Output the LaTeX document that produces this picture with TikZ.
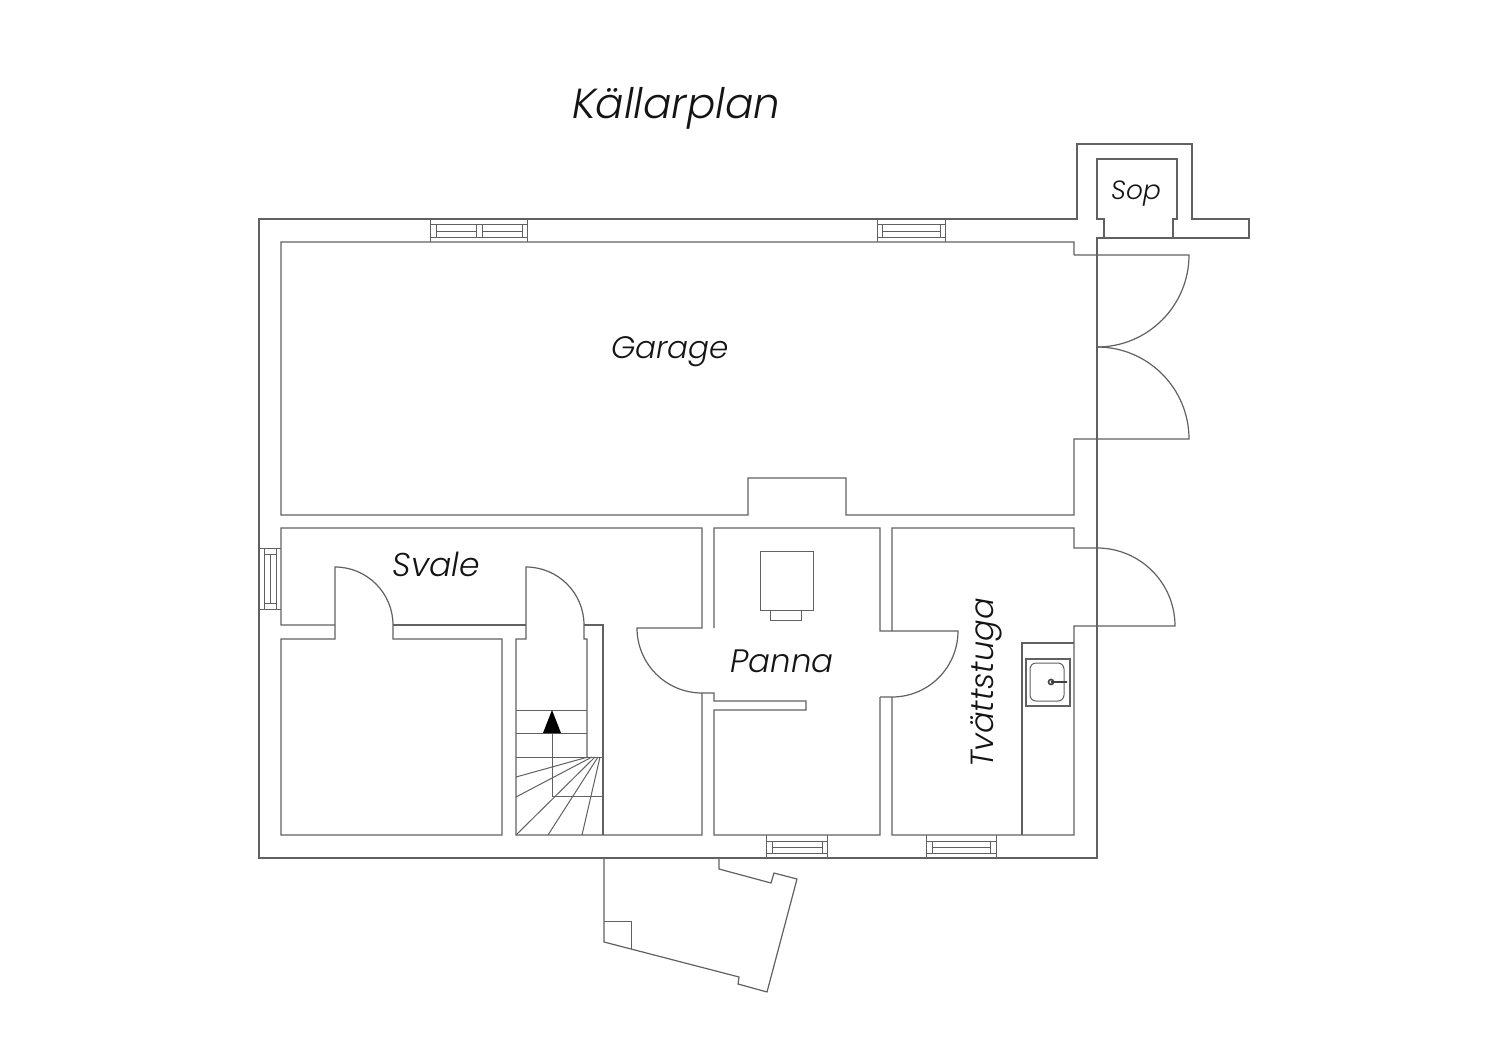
\documentclass[tikz,border=0pt]{standalone}
\usepackage{fontspec}
\setmainfont{Poppins Light Italic}
\tikzset{
  x=0.5pt,y=-0.5pt,
  wall/.style={draw=black!62,line width=0.6pt,line join=miter},
  thin wall/.style={draw=black!62,line width=0.5pt},
  label/.style={inner sep=0pt,text=black!92},
}
\begin{document}
\begin{tikzpicture}
\useasboundingbox (0,0) rectangle (1500,1060);
\fill[white] (0,0) rectangle (1500,1060);
% outer wall
\draw[wall] (1097,238) -- (1249,238) -- (1249,219) -- (1192,219) -- (1192,144) -- (1077,144) -- (1077,219) -- (259,219) -- (259,858) -- (1097,858) -- cycle;
% sop
\draw[wall] (1104,238) -- (1104,219) -- (1097,219) -- (1097,159) -- (1177,159) -- (1177,219) -- (1173,219) -- (1173,238);
% garage
\draw[wall] (1074,255) -- (1074,242) -- (281,242) -- (281,515) -- (748,515) -- (748,478) -- (846,478) -- (846,515) -- (1074,515) -- (1074,439) -- (1189,439) arc[start angle=0,end angle=-90,radius=92];
\draw[wall] (1074,255) -- (1189,255) arc[start angle=0,end angle=90,radius=92];
% svale and store room
\draw[wall] (335,625) -- (335,567) arc[start angle=-90,end angle=0,radius=58] -- (393,639) -- (502,639) -- (502,835) -- (281,835) -- (281,639) -- (335,639) -- (335,625);
\draw[wall] (335,625) -- (281,625) -- (281,528) -- (702,528) -- (702,628) -- (637,628) arc[start angle=180,end angle=90,radius=65] -- (714,693) -- (714,701) -- (806,701) -- (806,710) -- (714,710) -- (714,835) -- (880,835) -- (880,697);
\draw[wall] (393,625) -- (526,625);
% stair well
\draw[wall] (702,693) -- (702,835) -- (516,835) -- (516,639) -- (526,639) -- (526,567) arc[start angle=-90,end angle=0,radius=58] -- (584,639) -- (587,639) -- (587,757);
\draw[wall] (584,625) -- (603,625) -- (603,835);
% panna
\draw[wall] (714,628) -- (714,528) -- (880,528) -- (880,631) -- (958,631) arc[start angle=0,end angle=90,radius=66] -- (880,697);
% tvattstuga
\draw[wall] (892,631) -- (892,528) -- (1074,528) -- (1074,548) -- (1097,548) arc[start angle=-90,end angle=0,radius=78] -- (1074,626) -- (1074,835) -- (892,835) -- (892,697);
\draw[wall] (1022,835) -- (1022,643) -- (1074,643);
% boiler
\draw[thin wall] (760,551) rectangle (813,610);
\draw[thin wall] (770,610) rectangle (801,620);
% sink
\draw[draw=black!62,line width=1pt] (1026,659) rectangle (1070,706);
\draw[thin wall,rounded corners=3pt] (1030,663) rectangle (1064,701);
\draw[draw=black!75,line width=0.8pt] (1051,682) circle[radius=2.5] -- (1067,682);
% stairs
\foreach \yy in {710,733}{\draw[thin wall] (516,\yy) -- (587,\yy);}
\draw[thin wall] (516,757) -- (603,757);
\draw[thin wall] (552,796) -- (603,796);
\draw[thin wall] (552,796) -- (552,733);
\fill[black] (552,710) -- (561,733) -- (543,733) -- cycle;
\draw[thin wall] (516,777) -- (588,757);
\draw[thin wall] (516,797) -- (592,757);
\draw[thin wall] (516,835) -- (595,757);
\draw[thin wall] (548,835) -- (598,757);
\draw[thin wall] (582,835) -- (600,757);
% windows
\foreach \a/\b/\c/\d in {877/945/882/940,430/527/436/522}{
  \draw[thin wall] (\a,219) -- (\a,242) (\b,219) -- (\b,242) (\a,224) -- (\b,224) (\a,237) -- (\b,237) (\c,224) -- (\c,237) (\d,224) -- (\d,237);
}
\draw[thin wall] (882,231) -- (940,231);
\draw[thin wall] (436,231) -- (476,231) (482,231) -- (522,231) (476,224) -- (476,237) (482,224) -- (482,237);
\foreach \a/\b/\c/\d in {766/827/772/822,926/996/932/990}{
  \draw[thin wall] (\a,835) -- (\a,858) (\b,835) -- (\b,858) (\a,841) -- (\b,841) (\a,853) -- (\b,853) (\c,841) -- (\c,853) (\d,841) -- (\d,853) (\c,847) -- (\d,847);
}
\draw[thin wall] (259,548) -- (281,548) (259,609) -- (281,609) (264,548) -- (264,609) (276,548) -- (276,609) (264,554) -- (276,554) (264,603) -- (276,603) (270,554) -- (270,603);
% terrace
\draw[wall] (604,858) -- (604,942) -- (739,977) -- (738,984) -- (767,992) -- (797,879) -- (774,873) -- (771,883) -- (719,869) -- (719,858);
\draw[thin wall] (604,921) -- (631,921) -- (631,949);
% labels
\node[label,font=\fontsize{21}{25}\selectfont] (title) at (676,108) {Källarplan};
\node[label,font=\fontsize{13.2}{16}\selectfont] (sop) at (1136,194) {Sop};
\node[label,font=\fontsize{15.5}{19}\selectfont] (garage) at (670,352) {Garage};
\node[label,font=\fontsize{16.5}{20}\selectfont] (svale) at (436,564) {Svale};
\node[label,font=\fontsize{16.2}{20}\selectfont] (panna) at (782,661) {Panna};
\node[label,font=\fontsize{16}{20}\selectfont,rotate=90] (tvatt) at (986,683) {Tvättstuga};
\end{tikzpicture}
\end{document}
